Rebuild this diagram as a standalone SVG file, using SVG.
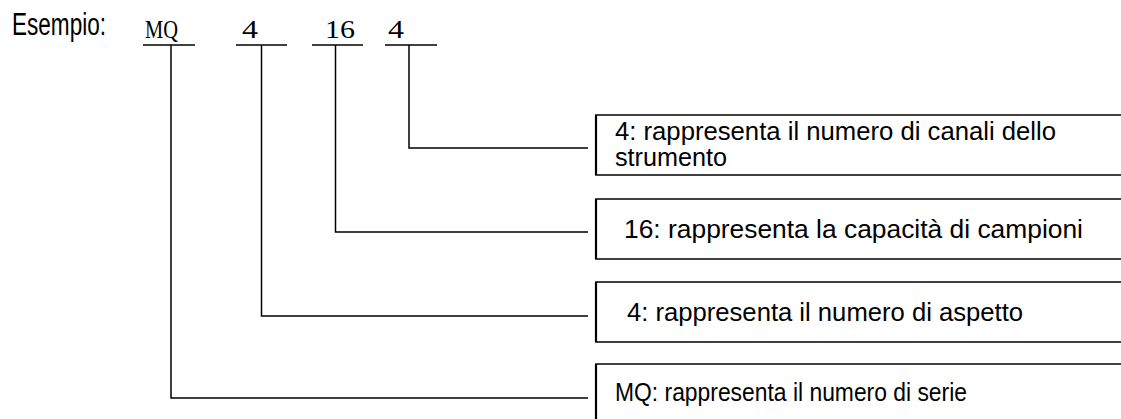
<svg xmlns="http://www.w3.org/2000/svg" width="1121" height="419" viewBox="0 0 1121 419">
<style>
.ln{stroke:#000;stroke-width:1.5;fill:none}
.box{fill:#fff;stroke:#111;stroke-width:1.6}
.bl{stroke:#000;stroke-width:2.2}
.t{font-family:"Liberation Sans",Arial,sans-serif;font-size:25px;fill:#000}
.code{font-family:"Liberation Serif","Times New Roman",serif;font-size:26px;fill:#000}
</style>
<rect width="1121" height="419" fill="#fff"/>
<g id="header">
<text x="12" y="35" font-family="Liberation Sans,Arial,sans-serif" font-size="31" textLength="94" lengthAdjust="spacingAndGlyphs">Esempio:</text>
<text class="code" x="145" y="38" textLength="33" lengthAdjust="spacingAndGlyphs">MQ</text>
<text class="code" x="242" y="38" textLength="16" lengthAdjust="spacingAndGlyphs">4</text>
<text class="code" x="325" y="38" textLength="30" lengthAdjust="spacingAndGlyphs">16</text>
<text class="code" x="388" y="38" textLength="16" lengthAdjust="spacingAndGlyphs">4</text>
<line class="ln" x1="143" y1="45" x2="195" y2="45"/>
<line class="ln" x1="236" y1="45" x2="287" y2="45"/>
<line class="ln" x1="312" y1="45" x2="363" y2="45"/>
<line class="ln" x1="385" y1="45" x2="437" y2="45"/>
</g>
<g id="connectors">
<polyline class="ln" points="409,45 409,148 588,148"/>
<polyline class="ln" points="335.5,45 335.5,232 588,232"/>
<polyline class="ln" points="261.5,45 261.5,316 588,316"/>
<polyline class="ln" points="171,45 171,398 588,398"/>
</g>
<g id="node-channels">
<rect class="box" x="596" y="115" width="540" height="60"/>
<line class="bl" x1="596" y1="115" x2="596" y2="175"/>
<text class="t" x="615" y="140" textLength="441" lengthAdjust="spacingAndGlyphs">4: rappresenta il numero di canali dello</text>
<text class="t" x="615" y="166" textLength="112" lengthAdjust="spacingAndGlyphs">strumento</text>
</g>
<g id="node-capacity">
<rect class="box" x="596" y="199" width="540" height="60"/>
<line class="bl" x1="596" y1="199" x2="596" y2="259"/>
<text class="t" x="624" y="238" textLength="459" lengthAdjust="spacingAndGlyphs">16: rappresenta la capacità di campioni</text>
</g>
<g id="node-aspect">
<rect class="box" x="596" y="282" width="540" height="60"/>
<line class="bl" x1="596" y1="282" x2="596" y2="342"/>
<text class="t" x="627" y="321" textLength="396" lengthAdjust="spacingAndGlyphs">4: rappresenta il numero di aspetto</text>
</g>
<g id="node-series">
<rect class="box" x="596" y="364" width="540" height="70"/>
<line class="bl" x1="596" y1="364" x2="596" y2="434"/>
<text class="t" x="615" y="401" textLength="352" lengthAdjust="spacingAndGlyphs">MQ: rappresenta il numero di serie</text>
</g>
</svg>
